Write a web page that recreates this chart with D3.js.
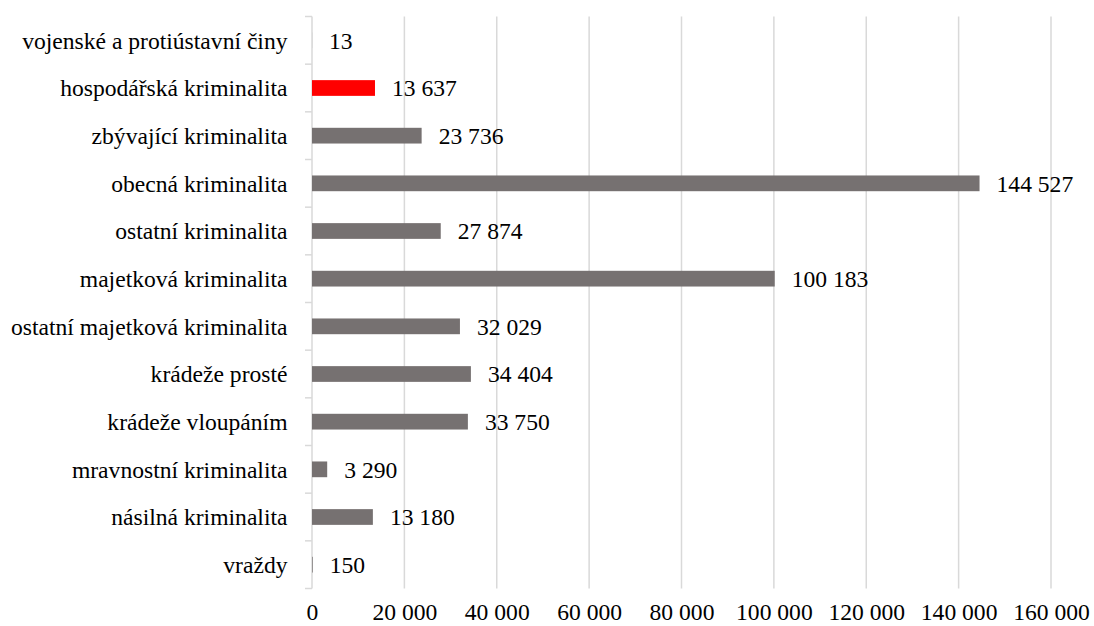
<!DOCTYPE html>
<html>
<head>
<meta charset="utf-8">
<script src="https://cdn.jsdelivr.net/npm/d3@7"></script>
<style>
  body { margin: 0; background: #fff; }
  text { font-family: "Liberation Serif", "Times New Roman", serif; fill: #000; }
</style>
</head>
<body>
<div id="chart"></div>
<script>
// categories top to bottom
const categories = [
  'vojenské a protiústavní činy',
  'hospodářská kriminalita',
  'zbývající kriminalita',
  'obecná kriminalita',
  'ostatní kriminalita',
  'majetková kriminalita',
  'ostatní majetková kriminalita',
  'krádeže prosté',
  'krádeže vloupáním',
  'mravnostní kriminalita',
  'násilná kriminalita',
  'vraždy'
];
const values = [13, 13637, 23736, 144527, 27874, 100183, 32029, 34404, 33750, 3290, 13180, 150];
const highlighted = ['hospodářská kriminalita'];
const xTicks = [0, 20000, 40000, 60000, 80000, 100000, 120000, 140000, 160000];

const width = 1094, height = 626;
const margin = { top: 16.5, right: 43, bottom: 37.5, left: 312 };
const fontSize = '23.6px';

const fmt = v => d3.format(',')(v).replace(/,/g, ' ');

const svg = d3.select('#chart')
  .append('svg')
  .attr('width', width)
  .attr('height', height);

const x = d3.scaleLinear()
  .domain([0, 160000])
  .range([margin.left, width - margin.right]);

const y = d3.scaleBand()
  .domain(categories)
  .range([margin.top, height - margin.bottom])
  .paddingInner(0.67)
  .paddingOuter(0.335);

const yOuter = d3.scaleBand()
  .domain(categories)
  .range([margin.top, height - margin.bottom]);

//gridlines
svg.append('g')
  .selectAll('line')
  .data(xTicks.slice(1))
  .enter()
  .append('line')
  .attr('x1', d => x(d))
  .attr('x2', d => x(d))
  .attr('y1', margin.top)
  .attr('y2', height - margin.bottom)
  .style('stroke', '#d9d9d9')
  .style('stroke-width', 1.5);

//x-axis labels
const xAxis = svg.append('g')
  .attr('transform', `translate(0, ${height - margin.bottom})`)
  .call(d3.axisBottom(x).tickValues(xTicks).tickFormat(fmt).tickSize(0).tickPadding(15));
xAxis.select('.domain').remove();
xAxis.selectAll('text')
  .style('font-family', '"Liberation Serif", "Times New Roman", serif')
  .style('font-size', fontSize)
  .style('fill', '#000');

//y-axis line and ticks
const bounds = categories.map(c => yOuter(c)).concat([height - margin.bottom]);
svg.append('line')
  .attr('x1', margin.left).attr('x2', margin.left)
  .attr('y1', margin.top).attr('y2', height - margin.bottom)
  .style('stroke', '#d9d9d9')
  .style('stroke-width', 1.5);
svg.append('g')
  .selectAll('line')
  .data(bounds)
  .enter()
  .append('line')
  .attr('x1', margin.left - 7).attr('x2', margin.left)
  .attr('y1', d => d).attr('y2', d => d)
  .style('stroke', '#d9d9d9')
  .style('stroke-width', 1.5);

//category labels
svg.append('g')
  .selectAll('text')
  .data(categories)
  .enter()
  .append('text')
  .attr('x', margin.left - 24.5)
  .attr('y', d => yOuter(d) + yOuter.bandwidth() / 2)
  .attr('dy', '0.36em')
  .attr('text-anchor', 'end')
  .style('font-size', fontSize)
  .text(d => d);

//bars
const data = categories.map((c, i) => ({ cat: c, value: values[i] }));
svg.append('g')
  .selectAll('rect')
  .data(data)
  .enter()
  .append('rect')
  .attr('x', x(0))
  .attr('y', d => y(d.cat))
  .attr('width', d => x(d.value) - x(0))
  .attr('height', y.bandwidth())
  .style('fill', d => highlighted.includes(d.cat) ? '#ff0000' : '#767171');

//value labels
svg.append('g')
  .selectAll('text')
  .data(data)
  .enter()
  .append('text')
  .attr('x', d => x(d.value) + 17)
  .attr('y', d => yOuter(d.cat) + yOuter.bandwidth() / 2)
  .attr('dy', '0.36em')
  .style('font-size', fontSize)
  .text(d => fmt(d.value));
</script>
</body>
</html>
